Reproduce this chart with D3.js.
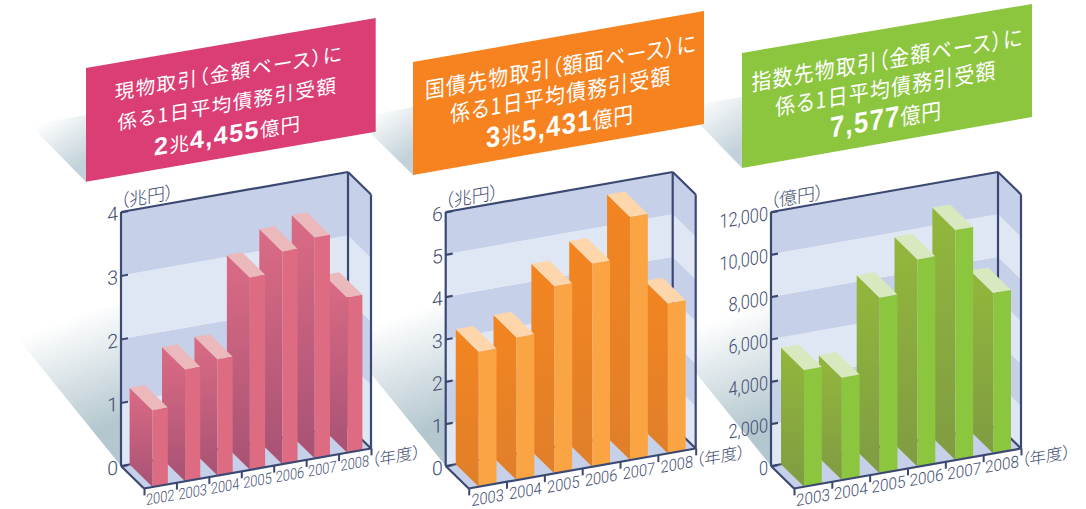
<!DOCTYPE html>
<html lang="ja">
<head>
<meta charset="utf-8">
<script src="https://cdn.jsdelivr.net/npm/d3@7/dist/d3.min.js"></script>
<style>
  html, body { margin: 0; padding: 0; background: #fff; }
  svg { display: block; }
  .jp { font-family: "Noto Sans CJK JP", "Noto Sans", sans-serif; font-feature-settings: "palt"; }
  .num { font-family: Roboto, "Liberation Sans", sans-serif; font-weight: 300; fill: #414c70; }
</style>
</head>
<body>
<svg id="chart" width="1086" height="509"></svg>
<script>
// Years on the depth-projected floor of each panel
const yearsCash = ["2002", "2003", "2004", "2005", "2006", "2007", "2008"];
const yearsBond = ["2003", "2004", "2005", "2006", "2007", "2008"];
const yearsIndex = ["2003", "2004", "2005", "2006", "2007", "2008"];

// Average daily settlement values
const valuesCash = [1.21, 1.76, 1.83, 3.03, 3.35, 3.48, 2.4455];
const valuesBond = [3.19, 3.37, 4.42, 4.80, 5.74, 3.5431];
const valuesIndex = [5512, 4835, 8299, 9795, 10866, 7577];

const maxCash = 4;
const maxBond = 6;
const maxIndex = 12000;
const ticksCash = [0, 1, 2, 3, 4];
const ticksBond = [0, 1, 2, 3, 4, 5, 6];
const ticksIndex = [0, 2000, 4000, 6000, 8000, 10000, 12000];

const unitsY = ["（兆円）", "（兆円）", "（億円）"];
const unitX = "（年度）";

// Heading lines per panel; the third line mixes bold figures with regular kanji
const headCash = ["現物取引（金額ベース）に", "係る1日平均債務引受額"];
const headBond = ["国債先物取引（額面ベース）に", "係る1日平均債務引受額"];
const headIndex = ["指数先物取引（金額ベース）に", "係る1日平均債務引受額"];
const totalCash = ["2", "兆", "4,455", "億円"];
const totalBond = ["3", "兆", "5,431", "億円"];
const totalIndex = ["", "", "7,577", "億円"];

const W = 227, H = 254, SLOPE = 40 / 227, DX = 23, DY = 22.5;
const INK = "#3b4871", BAND_DARK = "#c6d1e9", BAND_LIGHT = "#dfe7f5";

const panels = [
  { id: "cash", x0: 121, years: yearsCash, values: valuesCash, max: maxCash, ticks: ticksCash, unit: unitsY[0],
    side: ["#db6b85", "#a85274"], front: "#dd6c82", top: "#ebb8bb", card: "#db3d75",
    cardPts: [[86, 68], [375.7, 18], [375.7, 131.7], [86, 181.7]], head: headCash, total: totalCash,
    lineAt: [[229, 80], [227.5, 111], [227.5, 143]], yearSize: 15.5, yearStretch: 0.83, headStretch: 1, headSize: 19.5, figSize: 25,
    shade: [[30, 125], [86, 115], [86, 182]] },
  { id: "bond", x0: 445.7, years: yearsBond, values: valuesBond, max: maxBond, ticks: ticksBond, unit: unitsY[1],
    side: ["#f38520", "#e07f2a"], front: "#fba444", top: "#fdd6ac", card: "#f78320",
    cardPts: [[413, 62], [704, 11], [704, 124], [413, 175]], head: headBond, total: totalBond,
    lineAt: [[561, 75], [561, 103], [560, 135]], yearSize: 16.5, yearStretch: 0.886, headStretch: 0.88, headSize: 22.5, figSize: 29,
    shade: [[355, 118], [413, 107], [413, 175]] },
  { id: "index", x0: 771, years: yearsIndex, values: valuesIndex, max: maxIndex, ticks: ticksIndex, unit: unitsY[2],
    side: ["#93b73c", "#7f9c42"], front: "#8cc63f", top: "#d9e9bf", card: "#8cc63f",
    cardPts: [[742, 53], [1032, 4], [1032, 117], [742, 168]], head: headIndex, total: totalIndex,
    lineAt: [[887.5, 68], [886, 97], [886, 128]], yearSize: 16.5, yearStretch: 0.927, headStretch: 0.88, headSize: 22.5, figSize: 29,
    shade: [[682, 106], [742, 97], [742, 168]] }
];

const svg = d3.select("#chart");
const defs = svg.append("defs");
const Y0 = 466;
const polyPath = d3.line().curve(d3.curveLinearClosed);
const skew = (x, y) => `matrix(1,${-SLOPE},0,1,${x},${y})`;

// Soft floor shading sits under every panel, so it is laid down first
panels.forEach(p => {
  const ox = p.x0 - 121;
  defs.append("linearGradient").attr("id", `floor-${p.id}`)
    .attr("gradientUnits", "userSpaceOnUse")
    .attr("x1", ox + 70).attr("y1", 318).attr("x2", ox + 112).attr("y2", 425)
    .call(g => {
      g.append("stop").attr("offset", 0).attr("stop-color", "#ffffff");
      g.append("stop").attr("offset", 1).attr("stop-color", "#b4c7cf");
    });
  svg.append("path").attr("fill", `url(#floor-${p.id})`)
    .attr("d", polyPath([[p.x0 - 114, 325], [p.x0, 305], [p.x0 + 40, 300], [p.x0 + 40, 470], [p.x0, Y0]]));

  const [a, b, c] = p.shade;
  defs.append("linearGradient").attr("id", `cardshade-${p.id}`)
    .attr("gradientUnits", "userSpaceOnUse")
    .attr("x1", a[0] + 15).attr("y1", a[1] - 5).attr("x2", c[0] - 10).attr("y2", c[1] - 15)
    .call(g => {
      g.append("stop").attr("offset", 0).attr("stop-color", "#ffffff");
      g.append("stop").attr("offset", 1).attr("stop-color", "#c3d2da");
    });
  svg.append("path").attr("fill", `url(#cardshade-${p.id})`).attr("d", polyPath([a, b, c]));
});

panels.forEach(p => {
  const root = svg.append("g");
  const n = p.years.length;
  const x = d3.scaleBand().domain(p.years).range([0, W]).paddingInner(0.53).paddingOuter(0.265);
  const edge = d3.scaleLinear().domain([0, n]).range([0, W]);
  const y = d3.scaleLinear().domain([0, p.max]).range([0, -H]);

  // Maps (along-wall, depth 0..1, value) onto the page
  const pt = (u, d, v) => [p.x0 + u + d * DX, Y0 - u * SLOPE + d * DY + y(v)];

  // Back wall bands, side wall bands and floor
  const bands = d3.pairs(p.ticks);
  root.selectAll(".back").data(bands).join("path")
    .attr("fill", (d, i) => i % 2 ? BAND_DARK : BAND_LIGHT)
    .attr("d", ([lo, hi]) => polyPath([pt(0, 0, lo), pt(W, 0, lo), pt(W, 0, hi), pt(0, 0, hi)]));
  root.selectAll(".side").data(bands).join("path")
    .attr("fill", (d, i) => i % 2 ? BAND_DARK : BAND_LIGHT)
    .attr("d", ([lo, hi]) => polyPath([pt(W, 0, lo), pt(W, 1, lo), pt(W, 1, hi), pt(W, 0, hi)]));
  root.append("path").attr("fill", BAND_DARK)
    .attr("d", polyPath([pt(0, 0, 0), pt(W, 0, 0), pt(W, 1, 0), pt(0, 1, 0)]));

  // Frame edges behind the bars
  const edges = [
    [pt(W, 0, 0), pt(W, 0, p.max)],
    [pt(0, 0, 0), pt(W, 0, 0)],
    [pt(W, 0, 0), pt(W, 1, 0)]
  ];
  root.selectAll(".edge").data(edges).join("path")
    .attr("fill", "none").attr("stroke", INK).attr("stroke-width", 2.2)
    .attr("d", d3.line());

  // Bars are stacked from the far right so each one overlaps its right neighbour's side
  const side = defs.append("linearGradient").attr("id", `side-${p.id}`)
    .attr("x1", 0).attr("y1", 0).attr("x2", 0).attr("y2", 1);
  side.append("stop").attr("offset", 0).attr("stop-color", p.side[0]);
  side.append("stop").attr("offset", 1).attr("stop-color", p.side[1]);

  const rows = p.years.map((year, i) => ({ year, value: p.values[i] })).reverse();
  const bar = root.selectAll(".bar").data(rows).join("g");
  bar.append("path").attr("fill", `url(#side-${p.id})`)
    .attr("d", d => { const a = x(d.year);
      return polyPath([pt(a, 0, 0), pt(a, 1, 0), pt(a, 1, d.value), pt(a, 0, d.value)]); });
  bar.append("path").attr("fill", p.top)
    .attr("d", d => { const a = x(d.year), b = a + x.bandwidth();
      return polyPath([pt(a, 0, d.value), pt(b, 0, d.value), pt(b, 1, d.value), pt(a, 1, d.value)]); });
  bar.append("path").attr("fill", p.front)
    .attr("d", d => { const a = x(d.year), b = a + x.bandwidth();
      return polyPath([pt(a, 1, 0), pt(b, 1, 0), pt(b, 1, d.value), pt(a, 1, d.value)]); });

  // Near edges of the frame
  const near = [
    [pt(0, 0, 0), pt(0, 0, p.max)],
    [pt(0, 0, p.max), pt(W, 0, p.max)],
    [pt(W, 0, p.max), pt(W, 1, p.max)],
    [pt(W, 1, p.max), pt(W, 1, 0)],
    [pt(0, 0, 0), pt(0, 1, 0)],
    [pt(0, 1, 0), pt(W, 1, 0)]
  ];
  root.selectAll(".near").data(near).join("path")
    .attr("fill", "none").attr("stroke", INK).attr("stroke-width", 2.2)
    .attr("d", d3.line());

  // Value axis lies in the plane of the back wall
  const yAxis = root.append("g").attr("transform", skew(p.x0, Y0))
    .call(d3.axisLeft(y).tickValues(p.ticks).tickSize(-7).tickPadding(0).tickFormat(d3.format(",")));
  yAxis.select(".domain").remove();
  yAxis.selectAll("line").attr("stroke", INK).attr("stroke-width", 2.2);
  yAxis.selectAll("text").attr("class", "num").attr("font-size", 19.5)
    .attr("x", 0).attr("dy", "0.36em")
    .attr("transform", `translate(-3,0) scale(${p.id === "index" ? 0.84 : 1},1)`);

  // Year labels and tick marks along the front edge of the floor
  const frontEdge = root.append("g").attr("transform", skew(p.x0 + DX, Y0 + DY));
  frontEdge.append("g")
    .call(d3.axisBottom(edge).tickValues(d3.range(n + 1)).tickSize(7).tickFormat(""))
    .call(g => g.select(".domain").remove())
    .selectAll("line").attr("stroke", INK).attr("stroke-width", 2);
  frontEdge.append("g")
    .call(d3.axisBottom(x).tickSize(0).tickPadding(0))
    .call(g => g.select(".domain").remove())
    .selectAll("g.tick text").attr("class", "num").attr("font-size", p.yearSize)
    .attr("y", 0).attr("dy", "0.95em")
    .attr("transform", `translate(0,2.5) scale(${p.yearStretch},1)`)
    .each(function () { d3.select(this).attr("x", 0); });

  // Unit captions
  root.append("text").attr("class", "jp").attr("text-anchor", "middle")
    .attr("transform", `${skew(p.x0 + 26, 203)}`)
    .attr("font-size", 18).attr("font-weight", 300).attr("fill", "#414c70").text(p.unit);
  root.append("text").attr("class", "jp").attr("text-anchor", "middle")
    .attr("transform", `${skew(p.x0 + 275, 462)}`)
    .attr("font-size", 16.5).attr("font-weight", 300).attr("fill", "#414c70").text(unitX);

  // Heading card
  root.append("path").attr("fill", p.card).attr("d", polyPath(p.cardPts));
  const cardSlope = (p.cardPts[0][1] - p.cardPts[1][1]) / (p.cardPts[1][0] - p.cardPts[0][0]);
  const cardMatrix = ([cx, cy]) => `matrix(1,${-cardSlope},0,1,${cx},${cy}) scale(${p.headStretch},1)`;
  p.head.forEach((line, i) => {
    root.append("text").attr("class", "jp").attr("text-anchor", "middle")
      .attr("transform", cardMatrix(p.lineAt[i]))
      .attr("font-size", p.headSize).attr("letter-spacing", 1.5).attr("fill", "#fff").text(line);
  });
  const total = root.append("text").attr("class", "jp").attr("text-anchor", "middle")
    .attr("transform", cardMatrix(p.lineAt[2])).attr("fill", "#fff");
  p.total.forEach((part, i) => {
    if (!part) return;
    const figure = i % 2 === 0;
    total.append("tspan").text(part)
      .attr("font-family", figure ? "'Liberation Sans', sans-serif" : null)
      .attr("font-weight", figure ? 700 : 400)
      .attr("font-size", figure ? p.figSize : p.headSize)
      .attr("letter-spacing", figure ? 1.5 : 1);
  });
});
</script>
</body>
</html>
